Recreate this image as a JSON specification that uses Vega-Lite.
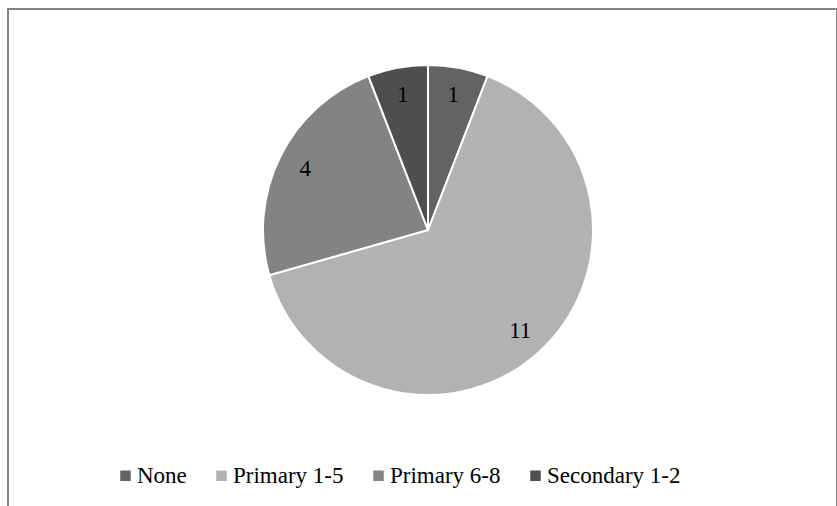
{
  "$schema": "https://vega.github.io/schema/vega-lite/v6.json",
  "width": 829,
  "height": 520,
  "autosize": {"type": "none"},
  "padding": {"left": 8, "top": 9, "right": 0, "bottom": 0},
  "background": "white",
  "view": {"stroke": "#838383", "strokeWidth": 2, "fill": "white"},
  "config": {
    "font": "Liberation Serif"
  },
  "data": {
    "values": [
      {"category": "None", "count": 1, "idx": 1},
      {"category": "Primary 1-5", "count": 11, "idx": 2},
      {"category": "Primary 6-8", "count": 4, "idx": 3},
      {"category": "Secondary 1-2", "count": 1, "idx": 4}
    ]
  },
  "encoding": {
    "theta": {"field": "count", "type": "quantitative", "stack": true},
    "order": {"field": "idx", "type": "quantitative"}
  },
  "layer": [
    {
      "mark": {"type": "arc", "outerRadius": 165, "stroke": "white", "strokeWidth": 2, "xOffset": 5.5, "yOffset": -39},
      "encoding": {
        "color": {
          "field": "category",
          "type": "nominal",
          "sort": ["None", "Primary 1-5", "Primary 6-8", "Secondary 1-2"],
          "scale": {
            "domain": ["None", "Primary 1-5", "Primary 6-8", "Secondary 1-2"],
            "range": ["#636363", "#b2b2b2", "#838383", "#4f4f4f"]
          },
          "legend": {
            "title": null,
            "orient": "none",
            "direction": "horizontal",
            "columns": 4,
            "legendX": 106,
            "legendY": 455,
            "padding": 0,
            "symbolType": "square",
            "symbolSize": 110,
            "symbolStrokeWidth": 0,
            "labelFont": "Liberation Serif",
            "labelFontSize": 23,
            "labelColor": "black",
            "labelOffset": 0,
            "columnPadding": 23,
            "labelLimit": 300
          }
        }
      }
    },
    {
      "mark": {"type": "text", "radius": 137, "fontSize": 23, "font": "Liberation Serif", "fill": "black", "xOffset": 5.5, "yOffset": -39},
      "encoding": {
        "text": {"field": "count", "type": "quantitative"}
      }
    }
  ]
}
